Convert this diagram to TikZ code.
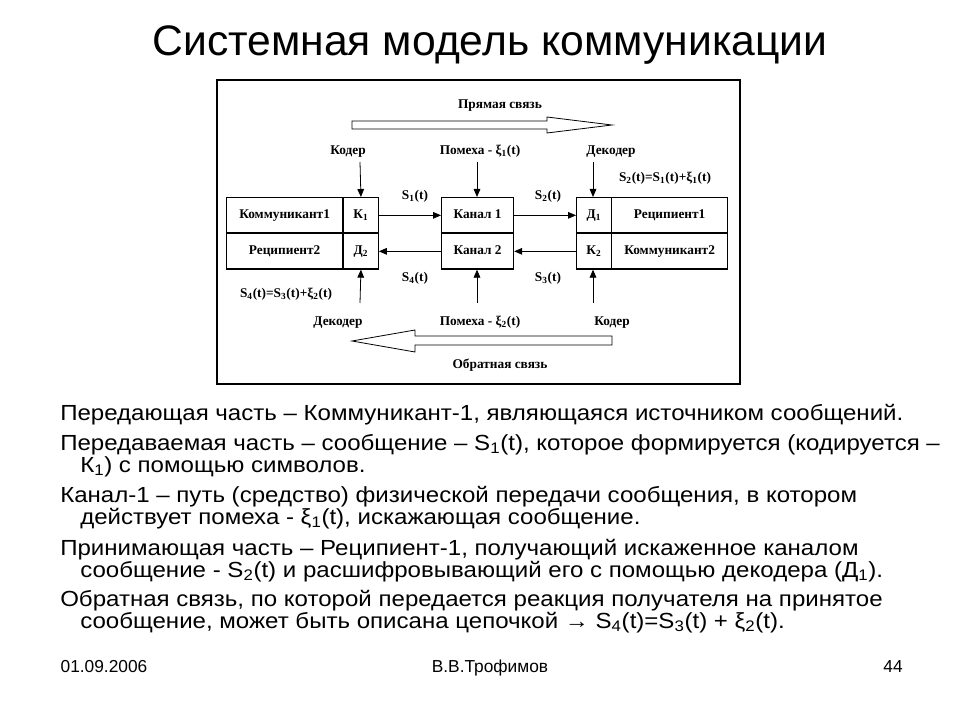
\documentclass[tikz,border=0pt]{standalone}
\usepackage{fontspec}
\setmainfont{Liberation Sans}
\newfontfamily\dserif{Liberation Serif}
\newfontfamily\bodyf[FakeStretch=1.1]{Liberation Sans}
\usetikzlibrary{arrows.meta}
\newcommand{\sbs}[1]{\textsubscript{#1}}
\begin{document}
\begin{tikzpicture}[x=0.75pt,y=-0.75pt,
  dl/.style={font=\dserif\bfseries\fontsize{10}{11}\selectfont,inner sep=1pt,text height=7pt,text depth=2pt},
  bx/.style={draw,line width=0.9pt,minimum height=26.6pt,inner sep=0pt,text height=7pt,text depth=1.5pt,font=\dserif\bfseries\fontsize{10}{11}\selectfont},
  ar/.style={-{Triangle[length=6pt,width=5pt]},line width=0.6pt},
  bt/.style={anchor=base west,font=\bodyf\fontsize{16.4}{18}\selectfont,inner sep=0pt},
  ft/.style={font=\fontsize{13}{15}\selectfont,inner sep=0pt,anchor=base}]
\useasboundingbox (0,0) rectangle (960,720);
\node[font=\fontsize{32}{36}\selectfont] (title) at (490,45) {Системная модель коммуникации};
\draw[line width=0.8pt] (217,80) rectangle (740,384);
% boxes
\node[bx,minimum width=87pt,anchor=north west] (c1) at (226,197) {Коммуникант1};
\node[bx,minimum width=87pt,anchor=north west] (r2) at (226,233) {Реципиент2};
\node[bx,minimum width=26pt,anchor=north west] (k1) at (343,197) {К\sbs{1}};
\node[bx,minimum width=26pt,anchor=north west] (d2) at (343,233) {Д\sbs{2}};
\node[bx,minimum width=54pt,anchor=north west] (ch1) at (441,197) {Канал 1};
\node[bx,minimum width=54pt,anchor=north west] (ch2) at (441,233) {Канал 2};
\node[bx,minimum width=26pt,anchor=north west] (d1) at (576,197) {Д\sbs{1}};
\node[bx,minimum width=26pt,anchor=north west] (k2) at (576,233) {К\sbs{2}};
\node[bx,minimum width=87pt,anchor=north west] (r1) at (611,197) {Реципиент1};
\node[bx,minimum width=87pt,anchor=north west] (c2) at (611,233) {Коммуникант2};
\draw[ar] (k1) -- (ch1);
\draw[ar] (ch1) -- (d1);
\draw[ar] (k2) -- (ch2);
\draw[ar] (ch2) -- (d2);
% labels
\node[dl] (lk1) at (348,151) {Кодер};
\node[dl] (lp1) at (480,151) {Помеха - ξ\sbs{1}(t)};
\node[dl] (ld1) at (611,151) {Декодер};
\node[dl] (ld2) at (338,322) {Декодер};
\node[dl] (lp2) at (480,322) {Помеха - ξ\sbs{2}(t)};
\node[dl] (lk2) at (612,322) {Кодер};
\coordinate (t1) at (360,162); \coordinate (t2) at (477,162); \coordinate (t3) at (593,162);
\coordinate (b1) at (360,303); \coordinate (b2) at (477,303); \coordinate (b3) at (593,303);
\draw[ar] (t1) -- (k1.north); \draw[ar] (t2) -- (ch1.north -| t2); \draw[ar] (t3) -- (d1.north -| t3);
\draw[ar] (b1) -- (d2.south); \draw[ar] (b2) -- (ch2.south -| b2); \draw[ar] (b3) -- (k2.south -| b3);
\node[dl] (s1) at (415,196) {S\sbs{1}(t)};
\node[dl] (s2) at (548,196) {S\sbs{2}(t)};
\node[dl] (s4) at (415,278) {S\sbs{4}(t)};
\node[dl] (s3) at (548,278) {S\sbs{3}(t)};
\node[dl] (e2) at (665,178) {S\sbs{2}(t)=S\sbs{1}(t)+ξ\sbs{1}(t)};
\node[dl] (e4) at (286,294) {S\sbs{4}(t)=S\sbs{3}(t)+ξ\sbs{2}(t)};
% big arrows
\node[dl] (pr) at (500,105) {Прямая связь};
\draw[line width=0.6pt] (352,121) -- (547,121) -- (547,117) -- (612,125) -- (547,133) -- (547,129) -- (352,129) -- cycle;
\node[dl] (ob) at (500,365) {Обратная связь};
\draw[line width=0.6pt] (612,336) -- (415,336) -- (415,330) -- (352,341) -- (415,352) -- (415,345) -- (612,345) -- cycle;
% text
\node[bt] (l1) at (60,420) {Передающая часть – Коммуникант-1, являющаяся источником сообщений.};
\node[bt] (l2) at (60,450) {Передаваемая часть – сообщение – S\sbs{1}(t), которое формируется (кодируется –};
\node[bt] (l3) at (80,472) {К\sbs{1}) с помощью символов.};
\node[bt] (l4) at (60,502) {Канал-1 – путь (средство) физической передачи сообщения, в котором};
\node[bt] (l5) at (80,524) {действует помеха - ξ\sbs{1}(t), искажающая сообщение.};
\node[bt] (l6) at (60,555) {Принимающая часть – Реципиент-1, получающий искаженное каналом};
\node[bt] (l7) at (80,577) {сообщение - S\sbs{2}(t) и расшифровывающий его с помощью декодера (Д\sbs{1}).};
\node[bt] (l8) at (60,606) {Обратная связь, по которой передается реакция получателя на принятое};
\node[bt] (l9) at (80,628) {сообщение, может быть описана цепочкой → S\sbs{4}(t)=S\sbs{3}(t) + ξ\sbs{2}(t).};
\node[ft] (f1) at (104,672) {01.09.2006};
\node[ft] (f2) at (490,672) {В.В.Трофимов};
\node[ft] (f3) at (893,672) {44};
\end{tikzpicture}
\end{document}
